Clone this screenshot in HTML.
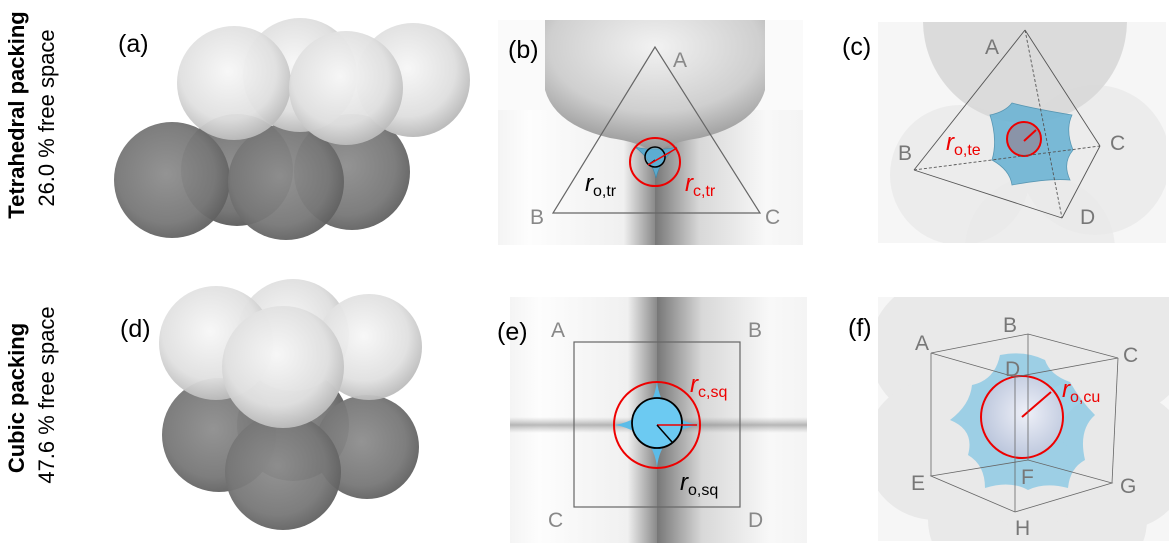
<!DOCTYPE html>
<html style="margin:0;width:1169px;height:553px;overflow:hidden"><head><meta charset="utf-8"><style>
body{margin:0;background:#fff;width:1169px;height:553px;overflow:hidden}
svg{display:block}
text{font-family:"Liberation Sans",sans-serif}
</style></head><body>
<svg width="1169" height="553" viewBox="0 0 1169 553" xmlns="http://www.w3.org/2000/svg">
<defs>
<radialGradient id="lt" cx="0.45" cy="0.4" r="0.6"><stop offset="0" stop-color="#f7f7f7"/><stop offset="0.7" stop-color="#e0e0e0"/><stop offset="1" stop-color="#bcbcbc"/></radialGradient>
<radialGradient id="dk" cx="0.45" cy="0.45" r="0.6"><stop offset="0" stop-color="#8e8e8e"/><stop offset="0.7" stop-color="#777"/><stop offset="1" stop-color="#5c5c5c"/></radialGradient>
<radialGradient id="gs" cx="0.5" cy="0.2" r="0.8"><stop offset="0" stop-color="#f2f2f2"/><stop offset="0.6" stop-color="#cfcfcf"/><stop offset="1" stop-color="#8e8e8e"/></radialGradient>
<linearGradient id="vl" x1="0" x2="1"><stop offset="0" stop-color="#f4f4f4"/><stop offset="0.2" stop-color="#fdfdfd"/><stop offset="0.8" stop-color="#f0f0f0"/><stop offset="1" stop-color="#8a8a8a"/></linearGradient>
<linearGradient id="vr" x1="1" x2="0"><stop offset="0" stop-color="#f4f4f4"/><stop offset="0.25" stop-color="#f8f8f8"/><stop offset="0.7" stop-color="#d8d8d8"/><stop offset="1" stop-color="#777"/></linearGradient>
<linearGradient id="hb" x1="0" y1="0" x2="0" y2="1"><stop offset="0" stop-color="#888" stop-opacity="0"/><stop offset="0.5" stop-color="#666" stop-opacity="0.45"/><stop offset="1" stop-color="#888" stop-opacity="0"/></linearGradient>
<radialGradient id="ws" cx="0.55" cy="0.45" r="0.65"><stop offset="0" stop-color="#eef0f8"/><stop offset="1" stop-color="#b4c0d8"/></radialGradient>
<clipPath id="cc"><rect x="878" y="22" width="288" height="221"/></clipPath>
<clipPath id="cf"><rect x="878" y="297" width="291" height="244"/></clipPath>
<clipPath id="cb"><rect x="498" y="20" width="305" height="225"/></clipPath>
</defs>

<text transform="translate(24,115) rotate(-90)" text-anchor="middle" font-size="22" font-weight="bold">Tetrahedral packing</text>
<text transform="translate(54,118) rotate(-90)" text-anchor="middle" font-size="22">26.0 % free space</text>
<text transform="translate(24,398) rotate(-90)" text-anchor="middle" font-size="22" font-weight="bold">Cubic packing</text>
<text transform="translate(54,395) rotate(-90)" text-anchor="middle" font-size="22">47.6 % free space</text>

<circle cx="237" cy="170" r="56" fill="url(#dk)"/>
<circle cx="172" cy="180" r="58" fill="url(#dk)" opacity="0.95"/>
<circle cx="352" cy="172" r="58" fill="url(#dk)" opacity="0.95"/>
<circle cx="286" cy="182" r="58" fill="url(#dk)" opacity="0.95"/>
<circle cx="300" cy="75" r="57" fill="url(#lt)"/>
<circle cx="413" cy="80" r="57" fill="url(#lt)"/>
<circle cx="234" cy="83" r="57" fill="url(#lt)" opacity="0.95"/>
<circle cx="346" cy="88" r="57" fill="url(#lt)" opacity="0.96"/>
<text x="118" y="52" font-size="25">(a)</text>

<circle cx="293" cy="425" r="56" fill="url(#dk)"/>
<circle cx="219" cy="435" r="57" fill="url(#dk)" opacity="0.95"/>
<circle cx="367" cy="447" r="52" fill="url(#dk)" opacity="0.95"/>
<circle cx="283" cy="472" r="58" fill="url(#dk)" opacity="0.95"/>
<circle cx="293" cy="335" r="56" fill="url(#lt)"/>
<circle cx="216" cy="343" r="57" fill="url(#lt)" opacity="0.95"/>
<circle cx="369" cy="347" r="53" fill="url(#lt)" opacity="0.95"/>
<circle cx="283" cy="367" r="61" fill="url(#lt)" opacity="0.97"/>
<text x="120" y="337" font-size="25">(d)</text>

<g clip-path="url(#cb)">
<rect x="498" y="20" width="157" height="225" fill="url(#vl)"/>
<rect x="655" y="20" width="148" height="225" fill="url(#vr)"/>
<rect x="498" y="20" width="305" height="90" fill="#fafafa"/>
<path d="M545,20 L545,90 Q555,125 610,138 Q645,143 655,155 Q665,143 700,138 Q755,125 765,90 L765,20 Z" fill="url(#gs)"/>
</g>
<text x="508" y="58" font-size="25">(b)</text>
<polygon points="655,47 553,213 760,213" fill="none" stroke="#666" stroke-width="1.2"/>
<path d="M635,147 Q656,152 677,147 Q660,160 656,178 Q652,160 635,147 Z" fill="#5aa9cc" stroke="#3e87a8" stroke-width="0.6"/>
<circle cx="655" cy="157" r="10" fill="#5fb0d4" fill-opacity="0.6" stroke="#000" stroke-width="1.5"/>
<ellipse cx="655" cy="162" rx="25" ry="24" fill="none" stroke="#e00" stroke-width="2"/>
<line x1="655" y1="160" x2="648" y2="165" stroke="#000" stroke-width="1.2"/>
<line x1="648" y1="165" x2="677" y2="148" stroke="#e00" stroke-width="1.5"/>
<text x="673" y="67" font-size="21" fill="#888">A</text>
<text x="530" y="224" font-size="21" fill="#888">B</text>
<text x="765" y="224" font-size="21" fill="#888">C</text>
<text x="585" y="191" font-size="24" font-family="Liberation Serif" font-style="italic">r<tspan font-size="16" font-style="normal" dy="5">o,tr</tspan></text>
<text x="685" y="191" font-size="24" font-family="Liberation Serif" font-style="italic" fill="#e00">r<tspan font-size="16" font-style="normal" dy="5">c,tr</tspan></text>

<g clip-path="url(#cc)">
<rect x="878" y="22" width="288" height="221" fill="#f6f6f6"/>
<circle cx="960" cy="175" r="70" fill="#e8e8e8" opacity="0.7"/>
<circle cx="1095" cy="160" r="75" fill="#e8e8e8" opacity="0.7"/>
<circle cx="1040" cy="250" r="75" fill="#eaeaea" opacity="0.7"/>
<circle cx="1025" cy="21" r="102" fill="#d8d8d8" opacity="0.9"/>
</g>
<path d="M990,115 Q1005,112 1012,103 Q1030,108 1072,115 Q1065,130 1073,150 Q1062,163 1070,180 Q1050,178 1012,185 Q1010,170 992,160 Q998,140 990,115 Z" fill="#6db4d4" stroke="#4a8fae" stroke-width="0.8" opacity="0.9"/>
<circle cx="1024" cy="139" r="17" fill="#8a94a8" stroke="#e00" stroke-width="2"/>
<line x1="1024" y1="141" x2="1036" y2="130" stroke="#e00" stroke-width="2"/>
<g stroke="#555" stroke-width="0.9" fill="none">
<line x1="1025" y1="30" x2="914" y2="170"/><line x1="1025" y1="30" x2="1100" y2="146"/>
<line x1="1025" y1="30" x2="1062" y2="218" stroke-dasharray="3,2"/>
<line x1="914" y1="170" x2="1062" y2="218"/><line x1="1100" y1="146" x2="1062" y2="218"/>
<line x1="914" y1="170" x2="1100" y2="146" stroke-dasharray="3,2"/>
</g>
<text x="842" y="55" font-size="25">(c)</text>
<text x="985" y="54" font-size="21" fill="#777">A</text>
<text x="898" y="160" font-size="21" fill="#777">B</text>
<text x="1110" y="150" font-size="21" fill="#777">C</text>
<text x="1080" y="224" font-size="21" fill="#777">D</text>
<text x="946" y="150" font-size="24" font-family="Liberation Serif" font-style="italic" fill="#e00">r<tspan font-size="16" font-style="normal" dy="5">o,te</tspan></text>

<rect x="510" y="297" width="147" height="246" fill="url(#vl)"/>
<rect x="657" y="297" width="150" height="246" fill="url(#vr)"/>
<rect x="510" y="417" width="297" height="16" fill="url(#hb)"/>
<text x="497" y="340" font-size="25">(e)</text>
<rect x="574" y="342" width="166" height="165" fill="none" stroke="#666" stroke-width="1.2"/>
<path d="M657,381 Q661,418 698,425 Q661,432 657,467 Q653,432 615,425 Q653,418 657,381 Z" fill="#5bbce8"/>
<circle cx="657" cy="423" r="25" fill="#6ccaf2" stroke="#000" stroke-width="1.8"/>
<circle cx="657" cy="425" r="43" fill="none" stroke="#e00" stroke-width="2"/>
<line x1="657" y1="425" x2="697" y2="425" stroke="#e00" stroke-width="1.5"/>
<line x1="657" y1="425" x2="672" y2="442" stroke="#000" stroke-width="1.5"/>
<text x="551" y="337" font-size="21" fill="#888">A</text>
<text x="748" y="337" font-size="21" fill="#888">B</text>
<text x="548" y="527" font-size="21" fill="#888">C</text>
<text x="748" y="527" font-size="21" fill="#888">D</text>
<text x="690" y="392" font-size="24" font-family="Liberation Serif" font-style="italic" fill="#e00">r<tspan font-size="16" font-style="normal" dy="5">c,sq</tspan></text>
<text x="680" y="490" font-size="24" font-family="Liberation Serif" font-style="italic">r<tspan font-size="16" font-style="normal" dy="5">o,sq</tspan></text>

<g clip-path="url(#cf)">
<rect x="878" y="297" width="291" height="244" fill="#f6f6f6"/>
<g fill="#c8c8c8" opacity="0.28">
<circle cx="940" cy="350" r="70"/><circle cx="1025" cy="330" r="65"/><circle cx="1120" cy="345" r="70"/>
<circle cx="935" cy="450" r="70"/><circle cx="1120" cy="460" r="70"/>
<circle cx="990" cy="520" r="62"/><circle cx="1085" cy="520" r="62"/><circle cx="1030" cy="480" r="50"/>
</g>
</g>
<path d="M1000,355 Q1025,350 1045,360 Q1050,375 1070,382 Q1080,400 1095,415 Q1078,430 1085,460 Q1070,468 1068,488 Q1045,482 1028,490 Q1010,480 985,488 Q985,465 968,455 Q975,430 950,420 Q970,405 972,385 Q995,380 1000,355 Z" fill="#7cc3e3" opacity="0.7"/>
<circle cx="1022" cy="417" r="41" fill="url(#ws)" stroke="#e00" stroke-width="2"/>
<line x1="1022" y1="417" x2="1051" y2="392" stroke="#e00" stroke-width="2"/>
<g stroke="#666" stroke-width="0.8" fill="none">
<polygon points="931,353 1028,334 1118,358 1015,377"/>
<polygon points="931,476 1028,460 1112,483 1015,512"/>
<line x1="931" y1="353" x2="931" y2="476"/><line x1="1028" y1="334" x2="1028" y2="460"/>
<line x1="1118" y1="358" x2="1112" y2="483"/><line x1="1015" y1="377" x2="1015" y2="512"/>
</g>
<text x="848" y="336" font-size="25">(f)</text>
<text x="915" y="350" font-size="21" fill="#777">A</text>
<text x="1003" y="332" font-size="21" fill="#777">B</text>
<text x="1123" y="362" font-size="21" fill="#777">C</text>
<text x="1005" y="376" font-size="21" fill="#777">D</text>
<text x="911" y="490" font-size="21" fill="#777">E</text>
<text x="1021" y="484" font-size="21" fill="#777">F</text>
<text x="1120" y="493" font-size="21" fill="#777">G</text>
<text x="1015" y="535" font-size="21" fill="#777">H</text>
<text x="1062" y="397" font-size="24" font-family="Liberation Serif" font-style="italic" fill="#e00">r<tspan font-size="16" font-style="normal" dy="5">o,cu</tspan></text>
</svg>
</body></html>
